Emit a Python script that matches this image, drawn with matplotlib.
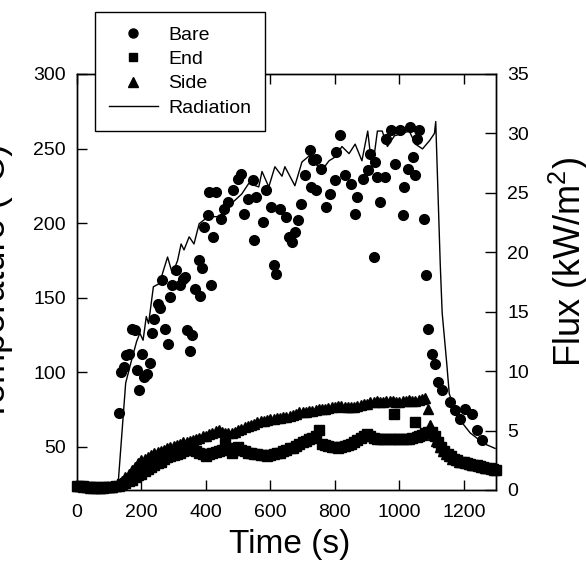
import matplotlib
matplotlib.use("Agg")
import matplotlib.pyplot as plt
from matplotlib.lines import Line2D

plt.rcParams['font.family'] = ['Liberation Sans', 'DejaVu Sans']
plt.rcParams['mathtext.fontset'] = 'custom'
plt.rcParams['mathtext.rm'] = 'Liberation Sans'
plt.rcParams['mathtext.it'] = 'Liberation Sans'

# ---------------- data ----------------
bare_t = [0, 20, 40, 60, 80, 100, 120,
          130, 138, 146, 152, 162, 170, 179, 185, 193, 202, 209, 218, 227, 234,
          240, 250, 257, 263, 273, 282, 288, 296, 307, 319, 328, 335, 341, 350,
          356, 365, 377, 381, 389, 393, 405, 411, 416, 421, 430, 446, 455, 467,
          483, 499, 508, 518, 530, 545, 548, 554, 576, 586, 603, 611, 616, 629,
          647, 659, 668, 677, 687, 694, 706, 722, 725, 731, 741, 743, 757, 772,
          784, 800, 803, 816, 830, 849, 861, 870, 886, 902, 908, 922, 926, 932,
          941, 957, 960, 973, 988, 1001, 1010, 1016, 1026, 1032, 1041, 1050,
          1056, 1062, 1077, 1084, 1089, 1101, 1110, 1119, 1134, 1156, 1172,
          1187, 1203, 1225, 1240, 1256]
bare_T = [23.5, 23, 23, 22.5, 23, 23, 24,
          72.8, 100.3, 103.6, 111.7, 112.4, 129, 128.5, 101.6, 88.2, 112.4, 97, 99, 106.4, 126.5,
          136, 146, 143, 162, 129, 119, 150.5, 158.6, 168.6, 158.6, 162.6, 164, 128.5, 114,
          125, 156, 175.4, 151, 170, 197.4, 205.5, 221, 158.3, 190.7, 221, 202.8, 209.5, 214,
          222, 229.6, 233, 206, 216, 229, 188.7, 217.5, 200.8, 222, 210.8, 172, 166, 209.5,
          204, 190.7, 187.4, 194, 202, 212.9, 232.3, 249, 224.4, 242.4, 243, 222.4, 236.3, 210.8,
          219.6, 229, 247.7, 259, 232.3, 226.3, 206.2, 217.6, 229.6, 235.6, 246.4, 177.3, 241, 231,
          214.2, 231, 256.4, 262.5, 239.7, 262.5, 205.5, 224.4, 236.3, 264.5, 244.4, 232.3,
          256.4, 262.5, 202.8, 165.3, 129, 112.4, 105.6, 93.6, 88.2, 80, 74.8,
          68.7, 75.4, 72, 61.4, 54.6]

end_t = [0, 10, 20, 30, 40, 50, 60, 70, 80, 90, 100, 110, 120,
         130, 140, 150, 160, 170, 180, 190, 200, 210, 220, 230, 240, 250, 260,
         270, 280, 290, 300, 310, 320, 330, 340, 350, 360, 370, 380, 390, 400,
         410, 420, 430, 440, 450, 460, 470, 480, 490, 500, 510, 520, 530, 540,
         550, 560, 570, 580, 590, 600, 610, 620, 630, 640, 650, 660, 670, 680,
         690, 700, 710, 720, 730, 740, 750, 760, 770, 780, 790, 800, 810, 820,
         830, 840, 850, 860, 870, 880, 890, 900, 910, 920, 930, 940, 950, 960,
         970, 980, 985, 990, 1000, 1010, 1020, 1030, 1040, 1050, 1055, 1060,
         1070, 1080, 1090, 1100, 1110, 1120, 1130, 1140, 1150, 1160, 1170, 1180,
         1190, 1200, 1210, 1220, 1230, 1240, 1250, 1260, 1270, 1280, 1290, 1300]
end_T = [24, 23.5, 23.5, 23, 23, 23, 23, 22.5, 23, 23, 23, 23, 23.5,
         24, 25, 26, 27, 28, 29.5, 31, 32, 33.5, 35, 36.5, 37.5, 39, 40,
         41.5, 43, 44, 44.5, 45, 46, 47, 47.5, 48, 48.5, 47, 46, 45, 44,
         45, 46, 46.5, 47, 48, 52, 49, 46, 48, 50, 48, 47, 46, 45.5,
         45, 45, 44.5, 44.5, 44, 44.5, 45, 45.5, 46, 47, 48, 49, 49.5, 50.5,
         52, 53, 54, 55, 56, 57, 61, 52, 51, 50.5, 50, 50, 49.5, 50,
         50.5, 51.5, 52, 53, 54.5, 56, 57, 58.5, 57, 56, 55.5, 55, 55, 55,
         55.5, 55.5, 72, 55, 55.5, 55, 55, 55.5, 56, 66.8, 56.5, 57,
         58, 59, 60, 60, 57, 53, 50, 47, 45, 43.5, 42, 41,
         40, 39.5, 39, 38.5, 38, 37.5, 37, 36.5, 36, 35.5, 35, 34.5]

side_t = [0, 10, 20, 30, 40, 50, 60, 70, 80, 90, 100, 110, 120,
          130, 140, 150, 160, 170, 180, 190, 200, 210, 220, 230, 240, 250, 260,
          270, 280, 290, 300, 310, 320, 330, 340, 350, 360, 370, 380, 390, 400,
          410, 420, 430, 440, 450, 460, 470, 480, 490, 500, 510, 520, 530, 540,
          550, 560, 570, 580, 590, 600, 610, 620, 630, 640, 650, 660, 670, 680,
          690, 700, 710, 720, 730, 740, 750, 760, 770, 780, 790, 800, 810, 820,
          830, 840, 850, 860, 870, 880, 890, 900, 910, 920, 930, 940, 950, 960,
          970, 980, 990, 1000, 1010, 1020, 1030, 1040, 1050, 1060, 1070, 1080,
          1088, 1095, 1105, 1115, 1125, 1135, 1145, 1155, 1165, 1175, 1185, 1195,
          1205, 1215, 1225, 1235, 1245, 1255, 1265, 1275, 1285, 1295]
side_T = [23.5, 23.5, 23, 23, 22.5, 22.5, 22.5, 22.5, 22.5, 23, 23, 23, 23.5,
          25, 27, 29.5, 32, 34.5, 36.5, 39, 41, 42, 43, 44.5, 45.5, 46.5, 47,
          48, 49, 50, 50.5, 51, 52, 53, 53.5, 54, 54.5, 55.5, 56, 57, 57.5,
          58.5, 59, 60.5, 61.5, 60, 59.5, 59, 59, 60, 61, 62, 63, 64, 64.5,
          65.5, 66.5, 67, 67.5, 68, 68.5, 68.5, 69, 69.5, 70, 70, 70.5, 71.5, 72,
          73, 73.5, 73.5, 74, 74, 74.5, 75, 75, 75.5, 76, 76.5, 77, 77.5, 77.5,
          77, 77, 76.5, 77, 77.5, 78, 78.5, 79, 80, 80, 80.5, 80, 80, 80.5,
          81, 80.5, 80, 80, 80.5, 81, 81.5, 81, 80.5, 81.5, 82, 82.5,
          75.4, 64.7, 58, 54, 50, 47, 45, 43.5, 42, 41, 40, 39.5,
          39, 38.5, 38, 37.5, 37, 36.5, 36, 35.5, 35, 34.5]

rad_t = [0, 60, 120, 127, 151, 170, 185, 195, 205, 215, 222, 237, 258, 265, 281,
         296, 312, 323, 332, 348, 363, 379, 407, 448, 479, 511, 533, 564, 574,
         595, 614, 636, 645, 676, 698, 720, 738, 760, 782, 800, 822, 844, 863,
         884, 902, 916, 932, 947, 963, 985, 1009, 1031, 1050, 1072, 1094, 1109,
         1113, 1120, 1127, 1133, 1147, 1155, 1179, 1220, 1263, 1297]
rad_F = [0, 0, 0, 0.3, 9.0, 11.0, 12.5, 13.2, 12.6, 14.6, 14.0, 17.1, 17.4, 18.2, 19.6,
         18.2, 19.3, 20.7, 20.2, 21.3, 20.7, 22.4, 23.0, 23.0, 24.1, 24.9, 25.8, 25.5, 26.8,
         25.5, 27.2, 26.4, 27.2, 25.6, 27.6, 28.1, 27.5, 26.9, 27.7, 28.0, 28.9, 28.3, 29.1,
         27.7, 30.2, 26.9, 30.2, 30.2, 28.9, 29.8, 30.0, 30.2, 29.1, 28.7, 29.4, 30.0,
         31.0, 25.0, 19.0, 14.9, 10.7, 8.1, 6.2, 4.8, 3.9, 3.5]

x_ticks = [0, 200, 400, 600, 800, 1000, 1200]
temp_ticks = [50, 100, 150, 200, 250, 300]
flux_ticks = [0, 5, 10, 15, 20, 25, 30, 35]

# ---------------- figure ----------------
W, H = 586, 569
fig = plt.figure(figsize=(W / 100, H / 100), dpi=100)
ax = fig.add_axes([77 / W, 1 - 490 / H, 419 / W, 416 / H])

ax.plot(end_t, end_T, 's', color='black', ms=6.5, mec='black', lw=0, clip_on=False)
ax.plot(side_t, side_T, '^', color='black', ms=7.5, mec='black', lw=0, clip_on=False)
ax.plot(bare_t, bare_T, 'o', color='black', ms=7, mec='black', lw=0, clip_on=False)

ax.set_xlim(0, 1300)
ax.set_ylim(21, 300)
ax.set_xticks(x_ticks)
ax.set_yticks(temp_ticks)
ax.tick_params(direction='in', length=7, width=1, labelsize=14, top=True,
               labeltop=False, right=False, pad=8)
ax.tick_params(axis='x', pad=10)

ax2 = ax.twinx()
ax2.plot(rad_t, rad_F, '-', color='black', lw=1.0)
ax2.set_ylim(0, 35)
ax2.set_yticks(flux_ticks)
ax2.tick_params(direction='in', length=8, width=1, labelsize=14, pad=8)

for a in (ax, ax2):
    for s in a.spines.values():
        s.set_linewidth(1.0)

handles = [
    Line2D([], [], marker='o', color='black', ls='none', ms=6.5),
    Line2D([], [], marker='s', color='black', ls='none', ms=5.5),
    Line2D([], [], marker='^', color='black', ls='none', ms=6.5),
    Line2D([], [], color='black', lw=1.0),
]
leg = ax2.legend(handles, ['Bare', 'End', 'Side', 'Radiation'],
                 loc='upper left', bbox_to_anchor=(95 / W, 1 - 12 / H),
                 bbox_transform=fig.transFigure, fontsize=14, frameon=True,
                 fancybox=False, framealpha=1, edgecolor='black',
                 handlelength=2.5, handletextpad=0.55, borderpad=0.72,
                 labelspacing=0.35, numpoints=1, borderaxespad=0)
leg.get_frame().set_linewidth(1.0)

fig.text(290 / W, 1 - 545 / H, 'Time (s)', ha='center', va='center', fontsize=24)
fig.text(547 / W, 1 - 262 / H, 'Flux (kW/m$^2$)', rotation=90, ha='left',
         va='center', fontsize=26)
fig.text(13 / W, 1 - 282 / H, 'Temperature (°C)', rotation=90, ha='right',
         va='center', fontsize=26)

fig.savefig('out.png', dpi=100)
